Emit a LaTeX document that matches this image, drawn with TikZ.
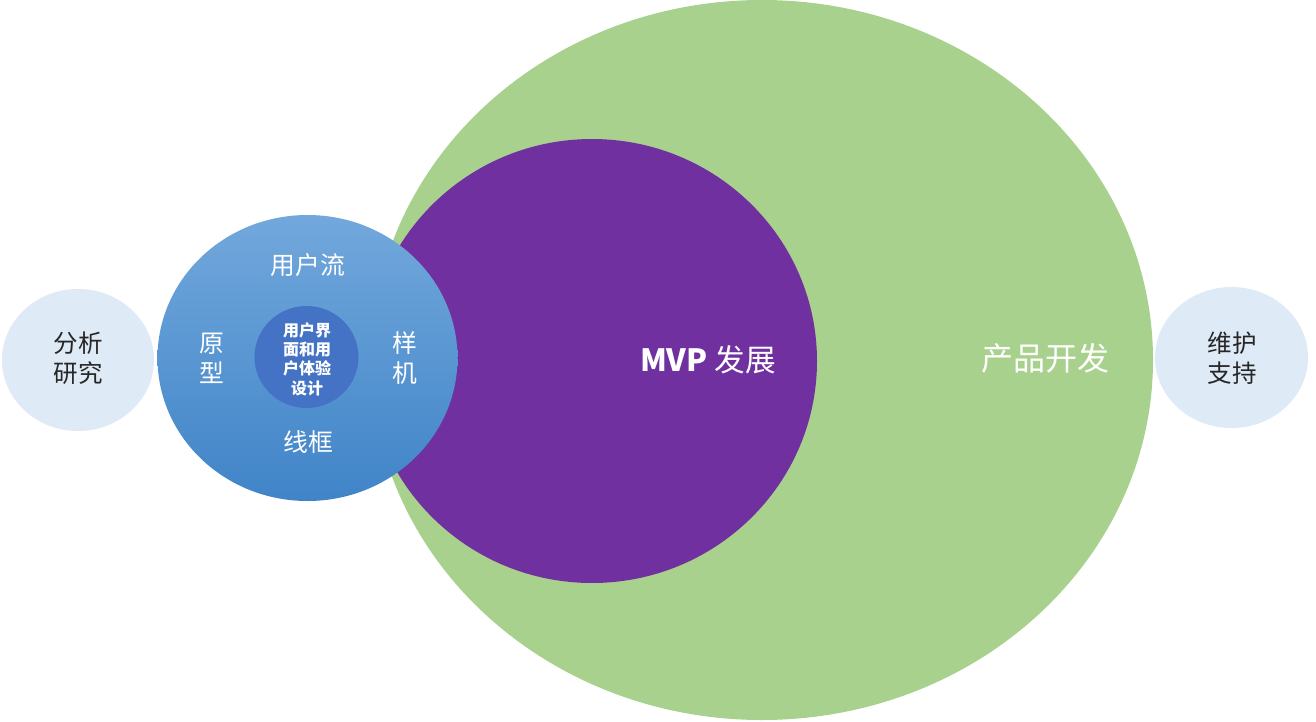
\documentclass[tikz,border=0pt]{standalone}
\usepackage{fontspec}
\setmainfont{Noto Sans CJK SC}
\usepackage{xcolor}
\usepackage{tikz}
\usetikzlibrary{shapes.geometric}

\definecolor{productGreen}{RGB}{169,209,142}
\definecolor{mvpPurple}{RGB}{112,48,160}
\definecolor{uxBlueTop}{RGB}{114,168,220}
\definecolor{uxBlueBottom}{RGB}{64,132,200}
\definecolor{uiBlue}{RGB}{68,114,196}
\definecolor{sideBlue}{RGB}{222,234,246}

\begin{document}
\begin{tikzpicture}[
      x=0.75pt, y=-0.75pt,
      phase/.style={
        ellipse,
        inner sep=0pt,
        draw=none
      },
      sidetext/.style={
        text=black!85,
        align=center,
        font=\fontsize{18.4}{22.5}\selectfont
      },
      uxtext/.style={
        text=white,
        align=center,
        font=\fontsize{18.6}{22.5}\selectfont
      },
      uitext/.style={
        text=white,
        align=center,
        font=\bfseries\fontsize{12}{14.5}\selectfont
      },
      bigtext/.style={
        text=white,
        font=\fontsize{24}{28}\selectfont
      }
    ]
    \useasboundingbox (0,0) rectangle (1316,721);

    % Phase circles
    \node (productDev) [phase, fill=productGreen, minimum width=586.5pt, minimum height=540pt] at (762,360) {};
    \node (mvpDev) [phase, fill=mvpPurple, minimum width=337.5pt, minimum height=333pt] at (592,361) {};
    \node (uxDesign) [phase, top color=uxBlueTop, bottom color=uxBlueBottom, minimum width=225pt, minimum height=214.5pt] at (307.5,358) {};
    \node (uiDesign) [phase, fill=uiBlue, minimum width=78pt, minimum height=76.5pt] at (306.5,357) {};
    \node (analysis) [phase, fill=sideBlue, minimum width=114pt, minimum height=106.5pt] at (78,360) {};
    \node (support) [phase, fill=sideBlue, minimum width=114.75pt, minimum height=105.75pt] at (1231.5,357.5) {};

    % Labels
    \node (analysisText) [sidetext] at (78,358) {分析\\研究};
    \node (supportText) [sidetext] at (1232,358) {维护\\支持};
    \node (userFlowText) [uxtext] at (308,265) {用户流};
    \node (prototypeText) [uxtext] at (212,358) {原\\型};
    \node (mockupText) [uxtext] at (405,358) {样\\机};
    \node (wireframeText) [uxtext] at (308,442) {线框};
    \node (uiText) [uitext] at (307,359) {用户界\\面和用\\户体验\\设计};
    \node (mvpText) [bigtext, font=\fontsize{23}{28}\selectfont] at (708,360) {\textbf{MVP} 发展};
    \node (productText) [bigtext] at (1045,358) {产品开发};

\end{tikzpicture}
\end{document}
